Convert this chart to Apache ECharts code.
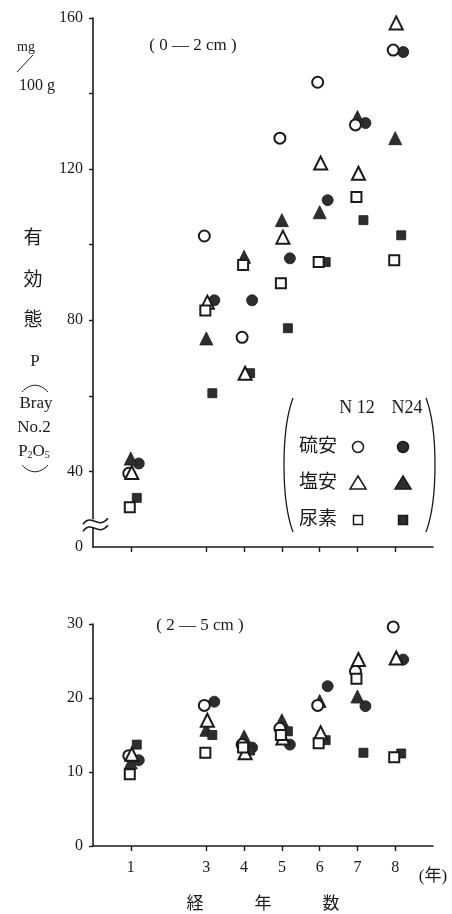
<!DOCTYPE html>
<html><head><meta charset="utf-8">
<script src="https://cdn.jsdelivr.net/npm/echarts@6/dist/echarts.min.js"></script>
<style>html,body{margin:0;padding:0;background:#fff}#c{width:452px;height:914px}</style>
</head><body><div id="c"></div>
<script>
const years = [1, 3, 4, 5, 6, 7, 8];
const xTickLabels = ['1', '3', '4', '5', '6', '7', '8'];
// top panel (0-2 cm), mg/100g
const topRyuanN12 = [39.5, 102.3, 75.5, 128.2, 143.0, 131.7, 151.5];
const topRyuanN24 = [42.1, 85.3, 85.3, 96.4, 111.8, 132.2, 151.0];
const topEnanN12  = [39.7, 84.8, 66.0, 102.0, 121.6, 118.9, 158.7];
const topEnanN24  = [43.4, 75.2, 96.8, 106.5, 108.6, 133.8, 128.2];
const topNyosoN12 = [30.5, 82.6, 94.6, 89.8, 95.4, 112.6, 95.9];
const topNyosoN24 = [33.0, 60.7, 66.0, 77.9, 95.4, 106.5, 102.5];
// bottom panel (2-5 cm)
const botRyuanN12 = [12.2, 19.0, 13.7, 15.9, 19.0, 23.6, 29.6];
const botRyuanN24 = [11.6, 19.5, 13.3, 13.7, 21.6, 18.9, 25.2];
const botEnanN12  = [12.4, 17.0, 12.6, 14.6, 15.3, 25.2, 25.4];
const botEnanN24  = [11.3, 15.7, 14.8, 17.0, 19.6, 20.2, 30.1];
const botNyosoN12 = [9.7, 12.6, 13.3, 15.0, 13.9, 22.6, 12.0];
const botNyosoN24 = [13.7, 15.0, 12.9, 15.5, 14.3, 12.6, 12.5];
const topYTicks = [40, 80, 120, 160];
const botYTicks = [0, 10, 20, 30];

const FONT = "'Liberation Serif', 'Noto Sans CJK JP', serif";
const INK = '#1a1a1a';
const FILL = '#2e2e2e';

const chart = echarts.init(document.getElementById('c'), null, {renderer: 'canvas'});

const styles = [
  {name: '硫安N12', symbol: 'circle', size: 11, filled: false, off: [-2, 0]},
  {name: '硫安N24', symbol: 'circle', size: 11, filled: true, off: [8, 0]},
  {name: '塩安N12', symbol: 'triangle', size: 13, filled: false, off: [1, 0]},
  {name: '塩安N24', symbol: 'triangle', size: 13, filled: true, off: [0, 0]},
  {name: '尿素N12', symbol: 'rect', size: 10, filled: false, off: [-1, 0]},
  {name: '尿素N24', symbol: 'rect', size: 9, filled: true, off: [6, 0]}
];
const topSets = [topRyuanN12, topRyuanN24, topEnanN12, topEnanN24, topNyosoN12, topNyosoN24];
const botSets = [botRyuanN12, botRyuanN24, botEnanN12, botEnanN24, botNyosoN12, botNyosoN24];

function mkSeries(sets, gi) {
  return sets.map((vals, i) => {
    const s = styles[i];
    return {
      type: 'scatter', name: s.name + (gi ? 'b' : 't'),
      xAxisIndex: gi, yAxisIndex: gi,
      symbol: s.symbol, symbolSize: s.size, symbolOffset: s.off,
      z: s.filled ? 3 : 4,
      itemStyle: {color: s.filled ? FILL : '#fff', borderColor: INK, borderWidth: s.filled ? 0.8 : 2, opacity: 1},
      emphasis: {disabled: true},
      data: years.map((y, k) => [y, vals[k]])
    };
  });
}

const xBase = (gi, showLabel) => ({
  type: 'value', gridIndex: gi, min: 0, max: 9,
  splitLine: {show: false},
  axisLine: {show: true, onZero: false, lineStyle: {color: INK, width: 1.6}},
  axisTick: {show: true, customValues: years, length: 5, lineStyle: {color: INK, width: 1.4}},
  axisLabel: {show: showLabel, customValues: years, margin: 14, fontSize: 16, color: INK, fontFamily: FONT,
    formatter: v => xTickLabels[years.indexOf(v)] || ''}
});

const option = {
  animation: false,
  backgroundColor: '#fff',
  textStyle: {fontFamily: FONT},
  grid: [
    {left: 93, right: 19, top: 18, height: 529},
    {left: 93, right: 19, top: 624, height: 226}
  ],
  xAxis: [
    xBase(0, false),
    Object.assign(xBase(1, true), {
      name: '経\u3000\u3000\u3000年\u3000\u3000\u3000数', nameLocation: 'middle', nameGap: 50,
      nameTextStyle: {fontSize: 17, color: INK, fontFamily: FONT}
    })
  ],
  yAxis: [
    {type: 'value', gridIndex: 0, min: 20, max: 160, interval: 20,
      splitLine: {show: false},
      axisLine: {show: true, lineStyle: {color: INK, width: 1.6}},
      axisTick: {show: true, customValues: [40, 60, 80, 100, 120, 140, 160], length: 4, lineStyle: {color: INK, width: 1.4}},
      axisLabel: {customValues: [20].concat(topYTicks), margin: 10, fontSize: 16, color: INK, fontFamily: FONT,
        formatter: v => v === 20 ? '0' : String(v)}
    },
    {type: 'value', gridIndex: 1, min: 0, max: 30, interval: 10,
      splitLine: {show: false},
      axisLine: {show: true, lineStyle: {color: INK, width: 1.6}},
      axisTick: {show: true, customValues: botYTicks, length: 4, lineStyle: {color: INK, width: 1.4}},
      axisLabel: {customValues: botYTicks, margin: 10, fontSize: 16, color: INK, fontFamily: FONT}
    }
  ],
  series: mkSeries(topSets, 0).concat(mkSeries(botSets, 1))
};
chart.setOption(option);

// decorations
const txt = (x, y, t, size, align) => ({type: 'text', x: x, y: y, z: 10,
  style: {text: t, fontSize: size, fill: INK, fontFamily: FONT, align: align || 'center', verticalAlign: 'middle'}});

const brk = chart.convertToPixel({xAxisIndex: 0, yAxisIndex: 0}, [0, 26]);
const bx = brk[0], by = brk[1];
const legendMarks = [];
function legSym(kind, filled, cx, cy) {
  const st = {fill: filled ? FILL : '#fff', stroke: INK, lineWidth: 1.5};
  if (kind === 'circle') return {type: 'circle', shape: {cx: cx, cy: cy, r: 5.5}, style: st, z: 10};
  if (kind === 'triangle') return {type: 'polygon', shape: {points: [[cx, cy - 7], [cx + 8, cy + 6], [cx - 8, cy + 6]]}, style: st, z: 10};
  return {type: 'rect', shape: {x: cx - 4.5, y: cy - 4.5, width: 9, height: 9}, style: st, z: 10};
}
const legRows = [['硫安', 'circle', 447], ['塩安', 'triangle', 483], ['尿素', 'rect', 520]];
legRows.forEach(r => {
  legendMarks.push(txt(318, r[2], r[0], 19));
  legendMarks.push(legSym(r[1], false, 358, r[2]));
  legendMarks.push(legSym(r[1], true, 403, r[2]));
});

chart.setOption({
  graphic: [
    // y-axis unit and title
    txt(26, 47, 'mg', 14),
    {type: 'line', shape: {x1: 17, y1: 72, x2: 33, y2: 55}, style: {stroke: INK, lineWidth: 1}, z: 10},
    txt(37, 86, '100 g', 16),
    txt(33, 239, '有', 19),
    txt(33, 281, '効', 19),
    txt(33, 321, '態', 19),
    txt(35, 362, 'P', 17),
    {type: 'bezierCurve', shape: {x1: 22, y1: 392, x2: 48, y2: 392, cpx1: 30, cpy1: 383, cpx2: 40, cpy2: 383}, style: {stroke: INK, fill: null, lineWidth: 1}, z: 10},
    txt(36, 404, 'Bray', 17),
    txt(34, 428, 'No.2', 17),
    {type: 'text', x: 34, y: 452, z: 10, style: {text: '{a|P}{s|2}{a|O}{s|5}', align: 'center', verticalAlign: 'middle', fill: INK,
      rich: {a: {fontSize: 17, fontFamily: FONT, fill: INK}, s: {fontSize: 10, fontFamily: FONT, fill: INK, padding: [6, 0, 0, 0]}}}},
    {type: 'bezierCurve', shape: {x1: 22, y1: 465, x2: 48, y2: 465, cpx1: 30, cpy1: 474, cpx2: 40, cpy2: 474}, style: {stroke: INK, fill: null, lineWidth: 1}, z: 10},
    // panel titles
    txt(193, 46, '( 0 \u2014 2 cm )', 17),
    txt(200, 626, '( 2 \u2014 5 cm )', 17),
    txt(433, 877, '(年)', 17),
    // axis break
    {type: 'rect', shape: {x: bx - 3, y: by - 5, width: 6, height: 8}, style: {fill: '#fff'}, z: 11},
    {type: 'bezierCurve', shape: {x1: bx - 10, y1: by, x2: bx + 15, y2: by - 6, cpx1: bx - 2, cpy1: by - 12, cpx2: bx + 5, cpy2: by + 6}, style: {stroke: INK, fill: null, lineWidth: 1.5}, z: 12},
    {type: 'bezierCurve', shape: {x1: bx - 10, y1: by + 7, x2: bx + 15, y2: by + 1, cpx1: bx - 2, cpy1: by - 5, cpx2: bx + 5, cpy2: by + 13}, style: {stroke: INK, fill: null, lineWidth: 1.5}, z: 12},
    // legend box
    {type: 'bezierCurve', shape: {x1: 293, y1: 398, x2: 293, y2: 532, cpx1: 281, cpy1: 430, cpx2: 281, cpy2: 500}, style: {stroke: INK, fill: null, lineWidth: 1.3}, z: 10},
    {type: 'bezierCurve', shape: {x1: 426, y1: 398, x2: 426, y2: 532, cpx1: 438, cpy1: 430, cpx2: 438, cpy2: 500}, style: {stroke: INK, fill: null, lineWidth: 1.3}, z: 10},
    txt(357, 408, 'N 12', 18),
    txt(407, 408, 'N24', 18)
  ].concat(legendMarks)
});
</script></body></html>
